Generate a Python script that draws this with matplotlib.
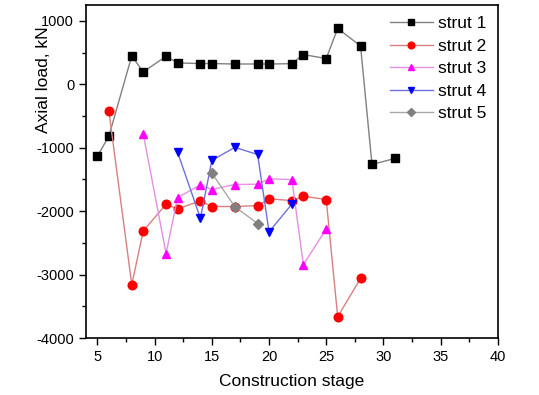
import matplotlib
matplotlib.use("Agg")
import matplotlib.pyplot as plt
from matplotlib.ticker import MultipleLocator

plt.rcParams['font.family'] = ['Liberation Sans', 'DejaVu Sans']
plt.rcParams['axes.unicode_minus'] = False

s1_x = [5, 6, 8, 9, 11, 12, 14, 15, 17, 19, 20, 22, 23, 25, 26, 28, 29, 31]
s1_y = [-1130, -817, 447, 195, 442, 337, 327, 327, 320, 320, 320, 325, 469, 406, 880, 605, -1264, -1169]

s2_x = [6, 8, 9, 11, 12, 14, 15, 17, 19, 20, 22, 23, 25, 26, 28]
s2_y = [-427, -3160, -2312, -1891, -1964, -1838, -1927, -1927, -1912, -1806, -1833, -1764, -1817, -3665, -3060]

s3_x = [9, 11, 12, 14, 15, 17, 19, 20, 22, 23, 25]
s3_y = [-780, -2670, -1785, -1585, -1659, -1580, -1575, -1490, -1503, -2844, -2280]

s4_x = [12, 14, 15, 17, 19, 20, 22]
s4_y = [-1069, -2112, -1200, -995, -1106, -2327, -1888]

s5_x = [15, 17, 19]
s5_y = [-1400, -1927, -2196]

series = [
    ("strut 1", s1_x, s1_y, 's', 'black', '#808080'),
    ("strut 2", s2_x, s2_y, 'o', '#ff0000', '#d88080'),
    ("strut 3", s3_x, s3_y, '^', '#ff00ff', '#e490e4'),
    ("strut 4", s4_x, s4_y, 'v', '#0000ff', '#7070dc'),
    ("strut 5", s5_x, s5_y, 'D', '#808080', '#a8a8a8'),
]

fig = plt.figure(figsize=(5.39, 3.95), dpi=100)
ax = fig.add_axes([0.1596, 0.1443, 0.764, 0.843])

for name, xs, ys, m, mc, lc in series:
    ms = 5.2 if m == 'D' else 6.2
    ax.plot(xs, ys, color=lc, lw=1.0, marker=m, markersize=ms,
            markerfacecolor=mc, markeredgecolor=mc, label=name)

ax.set_xlim(4, 40)
ax.set_ylim(-4000, 1250)
ax.xaxis.set_major_locator(MultipleLocator(5))
ax.xaxis.set_minor_locator(MultipleLocator(2.5))
ax.yaxis.set_major_locator(MultipleLocator(1000))
ax.yaxis.set_minor_locator(MultipleLocator(500))
ax.tick_params(which='both', direction='out', top=False, right=False, labelsize=10.5)
ax.tick_params(which='major', length=5, width=1)
ax.tick_params(which='minor', length=3, width=1)
for sp in ax.spines.values():
    sp.set_linewidth(1.2)

ax.set_xlabel("Construction stage", fontsize=12.5, labelpad=7)
ax.set_ylabel("Axial load, kN", fontsize=12.5)
ax.yaxis.set_label_coords(-0.085, 0.775)

ax.legend(loc='upper right', frameon=False, fontsize=12.5, handlelength=2.5,
          handletextpad=0.3, labelspacing=0.42, borderaxespad=0.25, markerscale=0.78)

fig.savefig("out.png", dpi=100)
